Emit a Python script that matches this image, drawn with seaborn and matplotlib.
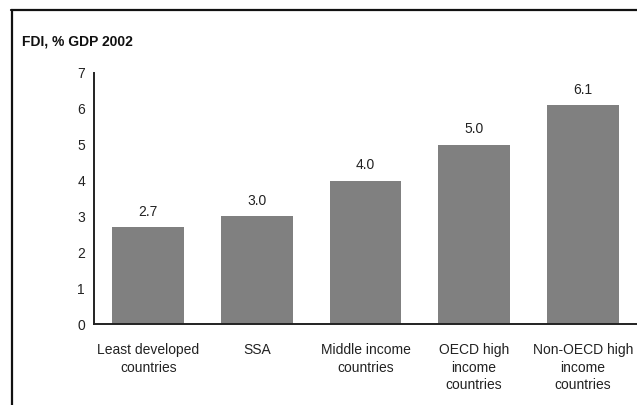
import matplotlib
matplotlib.use("Agg")
import matplotlib.pyplot as plt
from matplotlib.lines import Line2D
from matplotlib.ticker import FixedLocator, NullFormatter
import seaborn as sns
import pandas as pd

# FDI inflows as a share of GDP, 2002
categories = [
    "Least developed\ncountries",
    "SSA",
    "Middle income\ncountries",
    "OECD high\nincome\ncountries",
    "Non-OECD high\nincome\ncountries",
]
fdi_share = [2.7, 3.0, 4.0, 5.0, 6.1]
y_ticks = [0, 1, 2, 3, 4, 5, 6, 7]
title_text = "FDI, % GDP 2002"

df = pd.DataFrame({"group": categories, "fdi": fdi_share})

sns.set_style("white")
plt.rcParams["font.family"] = ["Liberation Sans", "DejaVu Sans"]

fig = plt.figure(figsize=(6.37, 4.05), dpi=100)
ax = fig.add_axes([0.1476, 0.2, 0.8524, 0.6198])

sns.barplot(data=df, x="group", y="fdi", color="#808080", width=0.66,
            saturation=1, ax=ax, edgecolor="none")

ax.set_xlim(-0.5, len(categories) - 0.5)
ax.set_ylim(0, 7)
ax.set_yticks(y_ticks)
ax.set_xlabel("")
ax.set_ylabel("")

for side in ("top", "right"):
    ax.spines[side].set_visible(False)
for side in ("left", "bottom"):
    ax.spines[side].set_color("#222222")
    ax.spines[side].set_linewidth(1.4)

# category labels centred, tick marks at the category boundaries
ax.tick_params(axis="x", which="major", length=0, pad=14, labelsize=10,
               labelcolor="#222222")
ax.xaxis.set_minor_locator(FixedLocator([i - 0.5 for i in range(len(categories) + 1)]))
ax.xaxis.set_minor_formatter(NullFormatter())
ax.tick_params(axis="x", which="minor", direction="out", length=4, width=1.2,
               color="#222222")
for lbl in ax.get_xticklabels():
    lbl.set_linespacing(1.3)

ax.tick_params(axis="y", direction="out", length=3, width=1.2, color="#222222",
               pad=3.5, labelsize=10, labelcolor="#222222")

for container in ax.containers:
    ax.bar_label(container, fmt="%.1f", padding=6, fontsize=10, color="#222222")

fig.text(22 / 637, 1 - 42 / 405, title_text, fontsize=10, fontweight="bold",
         color="#111111", va="center", ha="left")

# frame lines along the top and left edges
fig.add_artist(Line2D([11 / 637, 1.0], [1 - 9.5 / 405, 1 - 9.5 / 405],
                      transform=fig.transFigure, color="#111111", linewidth=1.6))
fig.add_artist(Line2D([11.5 / 637, 11.5 / 637], [0, 1 - 9.5 / 405],
                      transform=fig.transFigure, color="#111111", linewidth=1.6))

fig.savefig("out.png", dpi=100)
